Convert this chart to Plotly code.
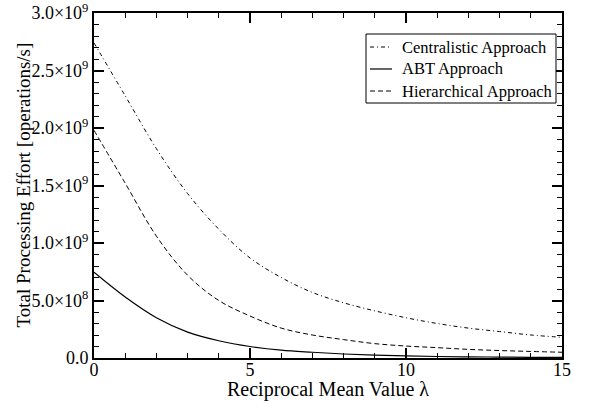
import plotly.graph_objects as go

lam = [0, 1, 2, 3, 4, 5, 6, 7, 8, 9, 10, 11, 12, 13, 14, 15]
centralistic = [2.74e9, 2.28e9, 1.82e9, 1.43e9, 1.12e9, 0.87e9, 0.70e9, 0.57e9, 0.48e9, 0.41e9,
                0.35e9, 0.30e9, 0.26e9, 0.23e9, 0.20e9, 0.18e9]
abt = [0.745e9, 0.53e9, 0.35e9, 0.225e9, 0.15e9, 0.10e9, 0.068e9, 0.050e9, 0.035e9, 0.025e9,
       0.018e9, 0.013e9, 0.010e9, 0.008e9, 0.006e9, 0.005e9]
hierarchical = [1.98e9, 1.52e9, 1.06e9, 0.72e9, 0.50e9, 0.365e9, 0.26e9, 0.20e9, 0.16e9, 0.125e9,
                0.104e9, 0.09e9, 0.075e9, 0.065e9, 0.057e9, 0.05e9]
series_names = ["Centralistic Approach", "ABT Approach", "Hierarchical Approach"]

y_tickvals = [0, 0.5e9, 1.0e9, 1.5e9, 2.0e9, 2.5e9, 3.0e9]
y_ticktext = ["0.0", "5.0×10<sup>8</sup>", "1.0×10<sup>9</sup>", "1.5×10<sup>9</sup>",
              "2.0×10<sup>9</sup>", "2.5×10<sup>9</sup>", "3.0×10<sup>9</sup>"]
x_tickvals = [0, 5, 10, 15]

FONT = "Liberation Serif"
styles = [dict(color="black", width=1, dash="4px,3px,1px,3px"),
          dict(color="black", width=1.2, dash="solid"),
          dict(color="black", width=1, dash="5px,3px")]

fig = go.Figure()
for name, ys, st in zip(series_names, [centralistic, abt, hierarchical], styles):
    fig.add_trace(go.Scatter(x=lam, y=ys, mode="lines", name=name, showlegend=False,
                             line=dict(shape="spline", **st)))

axis_common = dict(showline=True, linecolor="black", linewidth=2, mirror="ticks",
                   ticks="inside", ticklen=10, tickwidth=1.5, tickcolor="black",
                   showgrid=False, zeroline=False, automargin=False,
                   tickfont=dict(family=FONT, size=18, color="black"))

fig.update_xaxes(range=[0, 15], tickvals=x_tickvals, ticklabelstandoff=-6,
                 minor=dict(dtick=1, ticks="inside", ticklen=5, tickcolor="black", tickwidth=1),
                 **axis_common)
fig.update_yaxes(range=[0, 3.0e9], tickvals=y_tickvals, ticktext=y_ticktext,
                 minor=dict(tickvals=[i * 1e8 for i in range(31)], ticks="inside", ticklen=5,
                            tickcolor="black", tickwidth=1),
                 **axis_common)

# manual legend (paper coordinates)
shapes = [dict(type="rect", xref="paper", yref="paper", x0=0.5812, x1=0.9872, y0=0.7391, y1=0.9391,
               line=dict(color="black", width=1), fillcolor="white", layer="above")]
annotations = []
row_y = [0.9014, 0.8377, 0.7739]
for name, st, ry in zip(series_names, styles, row_y):
    shapes.append(dict(type="line", xref="paper", yref="paper", x0=0.5897, x1=0.6368, y0=ry, y1=ry,
                       line=st, layer="above"))
    annotations.append(dict(text=name, xref="paper", yref="paper", x=0.6538, y=ry,
                            xanchor="left", yanchor="middle", showarrow=False,
                            font=dict(family=FONT, size=16.5, color="black")))

annotations += [
    dict(text="Reciprocal Mean Value λ", xref="paper", yref="paper", x=0.5, y=0.0,
         yshift=-31, xanchor="center", yanchor="middle", showarrow=False,
         font=dict(family=FONT, size=20, color="black")),
    dict(text="Total Processing Effort [operations/s]", xref="paper", yref="paper",
         x=0, xshift=-71, y=0.5, xanchor="center", yanchor="middle", textangle=-90,
         showarrow=False, font=dict(family=FONT, size=19, color="black")),
]

fig.update_layout(
    width=606, height=404,
    margin=dict(l=94, r=44, t=13, b=46, autoexpand=False),
    paper_bgcolor="white", plot_bgcolor="white",
    showlegend=False,
    shapes=shapes,
    annotations=annotations,
)

fig.write_html("out.html", config={"displayModeBar": False},
               post_script="document.body.style.margin='0';document.body.style.overflow='hidden';")
